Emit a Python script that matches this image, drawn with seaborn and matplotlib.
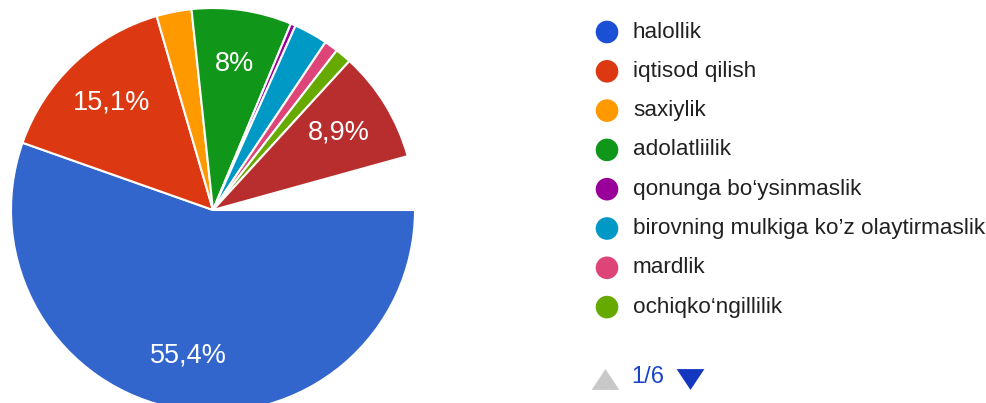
import matplotlib
matplotlib.use("Agg")
import numpy as np
import seaborn as sns
from matplotlib import pyplot as plt

# legend page 1/6 shows the first eight answers; the ninth slice is unlabelled here
categories = [
    "halollik",
    "iqtisod qilish",
    "saxiylik",
    "adolatliilik",
    "qonunga bo\u2018ysinmaslik",
    "birovning mulkiga ko\u2019z olaytirmaslik",
    "mardlik",
    "ochiqko\u2018ngillilik",
    "",
]
shares = [55.4, 15.1, 2.8, 8.0, 0.4, 2.7, 1.1, 1.3, 8.9]
slice_colors = [
    "#3366cc", "#dc3912", "#ff9900", "#109618", "#990099",
    "#0099c6", "#dd4477", "#66aa00", "#b82e2e",
]
legend_colors = [
    "#1a4fd6", "#dc3912", "#ff9900", "#109618", "#990099",
    "#0099c6", "#dd4477", "#66aa00",
]
page_label = "1/6"

sns.set_theme(style="white")
plt.rcParams["font.family"] = ["Liberation Sans", "DejaVu Sans"]

W, H = 987, 403
fig = plt.figure(figsize=(W / 100, H / 100), dpi=100)
fig.patch.set_facecolor("white")

cx, cy, r = 213, 210, 202
ax = fig.add_axes([(cx - r) / W, (H - cy - r) / H, 2 * r / W, 2 * r / H])


def pct_label(p):
    if p < 5:
        return ""
    txt = f"{p:.1f}".rstrip("0").rstrip(".")
    return txt.replace(".", ",") + "%"


fractions = np.array(shares) / 100.0
wedges, texts, autotexts = ax.pie(
    fractions,
    colors=slice_colors,
    startangle=0,
    counterclock=False,
    normalize=False,
    autopct=pct_label,
    pctdistance=0.73,
    wedgeprops={"edgecolor": "white", "linewidth": 1.5},
    textprops={"color": "white", "fontsize": 19.5},
)
ax.set_xlim(-1, 1)
ax.set_ylim(-1, 1)
ax.set_aspect("equal")
ax.axis("off")

# legend drawn in pixel coordinates on an overlay axes
leg = fig.add_axes([0, 0, 1, 1])
leg.set_xlim(0, W)
leg.set_ylim(H, 0)
leg.axis("off")
leg.patch.set_alpha(0)

row_y = 32 + 39.3 * np.arange(len(legend_colors))
leg.scatter(np.full(len(legend_colors), 607), row_y, s=265, c=legend_colors, marker="o", linewidths=0)
for y, name in zip(row_y, categories[: len(legend_colors)]):
    leg.text(633, y, name, fontsize=16.2, color="#212121", va="center", ha="left")

tri_up = [(-1, 0.75), (1, 0.75), (0, -0.75)]      # y axis is flipped in pixel coords
tri_down = [(-1, -0.75), (1, -0.75), (0, 0.75)]
leg.scatter([604.5], [378.5], s=400, marker=tri_down, c="#c8c8c8", linewidths=0)
leg.text(631, 377, page_label, fontsize=17, color="#1a44c8", va="center", ha="left")
leg.scatter([690], [378.5], s=400, marker=tri_up, c="#1437c0", linewidths=0)

fig.savefig("out.png", dpi=100, facecolor="white")
